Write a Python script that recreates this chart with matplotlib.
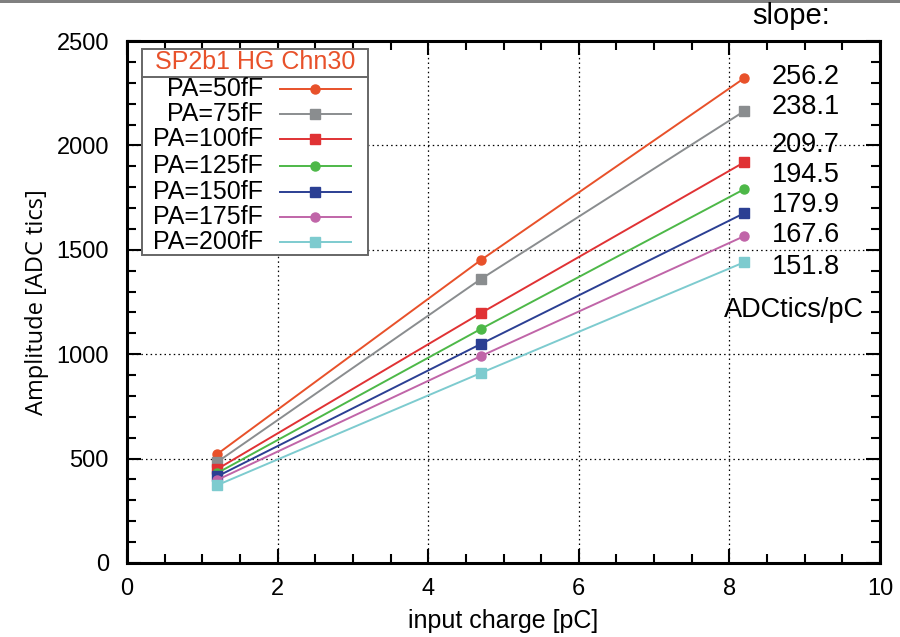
import matplotlib.pyplot as plt
from matplotlib.patches import Rectangle
from matplotlib.lines import Line2D
from matplotlib.ticker import MultipleLocator

plt.rcParams['font.family'] = ['Liberation Sans', 'DejaVu Sans']

#------------------------------------------------------------------------------
# data
charge = [1.2, 4.7, 8.2]                        # input charge [pC]
labels = ["PA=50fF", "PA=75fF", "PA=100fF", "PA=125fF",
          "PA=150fF", "PA=175fF", "PA=200fF"]
amp_50 = [522, 1451, 2323]
amp_75 = [484, 1360, 2165]
amp_100 = [450, 1197, 1920]
amp_125 = [431, 1121, 1791]
amp_150 = [415, 1049, 1676]
amp_175 = [398, 991, 1566]
amp_200 = [373, 910, 1441]
slopes = ["256.2", "238.1", "209.7", "194.5", "179.9", "167.6", "151.8"]
title = "SP2b1 HG Chn30"
#------------------------------------------------------------------------------
series = [amp_50, amp_75, amp_100, amp_125, amp_150, amp_175, amp_200]
colors = ['#e8512a', '#8a8d8f', '#e03234', '#4db848', '#2b3f93', '#c065a8', '#7dcbcf']
markers = ['o', 's', 's', 'o', 's', 'o', 's']

fig = plt.figure(figsize=(9, 6.37), dpi=100)
ax = fig.add_axes([0.1411, 0.1162, 0.8367, 0.8194])

for y, c, m in zip(series, colors, markers):
    ax.plot(charge, y, color=c, marker=m, markersize=6.5, linewidth=1.4, zorder=3)

ax.set_xlim(0, 10)
ax.set_ylim(0, 2500)
ax.xaxis.set_major_locator(MultipleLocator(2))
ax.xaxis.set_minor_locator(MultipleLocator(0.5))
ax.yaxis.set_major_locator(MultipleLocator(500))
ax.yaxis.set_minor_locator(MultipleLocator(100))
ax.tick_params(which='both', direction='in', top=True, right=True, width=1.5, labelsize=17)
ax.tick_params(which='major', length=10)
ax.tick_params(axis='y', which='major', pad=13)
ax.tick_params(axis='x', which='major', pad=11)
ax.tick_params(which='minor', length=6.5)
for s in ax.spines.values():
    s.set_linewidth(2.2)
ax.grid(True, which='major', color='k', linestyle=(0, (1.2, 2.5)), linewidth=0.9)
ax.set_xlabel('input charge [pC]', fontsize=18, labelpad=6)
ax.set_ylabel('Amplitude [ADC tics]', fontsize=17, family=['Open Sans', 'DejaVu Sans'],
              labelpad=5)

#------------------------------------------------------------------------------
# legend box drawn by hand
ax.add_patch(Rectangle((0.02, 0.59), 0.30, 0.395, transform=ax.transAxes,
                       facecolor='white', edgecolor='#666666', linewidth=1.4, zorder=5))
ax.add_line(Line2D([0.02, 0.32], [0.931, 0.931], transform=ax.transAxes,
                   color='#666666', linewidth=1.4, zorder=6))
ax.text(0.17, 0.959, title, transform=ax.transAxes, ha='center', va='center',
        fontsize=18, color='#e8512a', zorder=6)
row_y = [0.908, 0.860, 0.812, 0.761, 0.711, 0.663, 0.615]
for yy, lab, c, m in zip(row_y, labels, colors, markers):
    ax.text(0.181, yy, lab, transform=ax.transAxes, ha='right', va='center',
            fontsize=18, zorder=6)
    ax.add_line(Line2D([0.203, 0.297], [yy, yy], transform=ax.transAxes,
                       color=c, linewidth=1.4, zorder=6))
    ax.add_line(Line2D([0.25], [yy], transform=ax.transAxes, color=c,
                       marker=m, markersize=6.5, zorder=7))

#------------------------------------------------------------------------------
# slope annotations
fig.text(0.879, 0.975, "slope:", ha='center', va='center', fontsize=21)
slope_y = [77, 107, 145, 175, 205, 235, 267]
for yy, s in zip(slope_y, slopes):
    fig.text(0.895, 1 - yy / 637, s, ha='center', va='center', fontsize=19.5)
fig.text(0.882, 1 - 310 / 637, "ADCtics/pC", ha='center', va='center', fontsize=19.5)

# gray strip on top of the figure
fig.add_artist(Rectangle((0, 0.995), 1, 0.005, transform=fig.transFigure,
                         facecolor='#808080', edgecolor='none'))

fig.savefig('out.png', dpi=100)
